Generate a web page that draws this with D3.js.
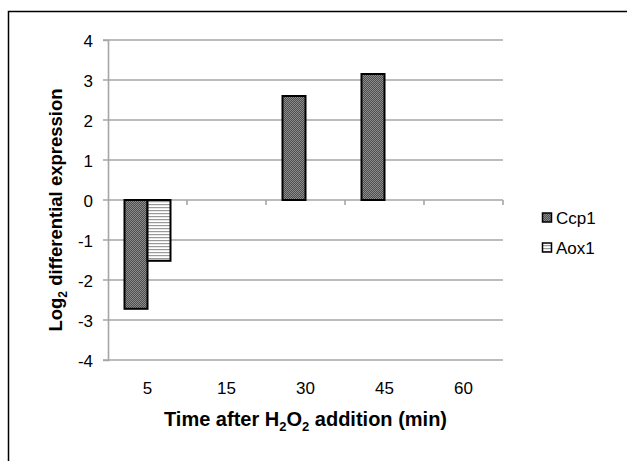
<!DOCTYPE html>
<html>
<head>
<meta charset="utf-8">
<script src="https://cdn.jsdelivr.net/npm/d3@7"></script>
<style>
  body { margin: 0; background: #fff; }
  text { font-family: "Liberation Sans", Arial, sans-serif; fill: #000; }
</style>
</head>
<body>
<div id="chart"></div>
<script>
// data
const times = ["5", "15", "30", "45", "60"];
const seriesNames = ["Ccp1", "Aox1"];
const ccp1 = [-2.72, null, 2.6, 3.15, null];
const aox1 = [-1.52, null, null, null, null];
const yTicks = [-4, -3, -2, -1, 0, 1, 2, 3, 4];

const W = 627, H = 461;
const margin = { top: 40, left: 108, right: 124, bottom: 101 };

const svg = d3.select("#chart").append("svg")
  .attr("width", W)
  .attr("height", H);

// patterns for the bars
const defs = svg.append("defs");
const checker = defs.append("pattern")
  .attr("id", "checker")
  .attr("patternUnits", "userSpaceOnUse")
  .attr("width", 2).attr("height", 2);
checker.append("rect").attr("width", 2).attr("height", 2).attr("fill", "#4d4d4d");
checker.append("rect").attr("width", 1).attr("height", 1).attr("fill", "#8c8c8c");
checker.append("rect").attr("x", 1).attr("y", 1).attr("width", 1).attr("height", 1).attr("fill", "#8c8c8c");

const stripes = defs.append("pattern")
  .attr("id", "stripes")
  .attr("patternUnits", "userSpaceOnUse")
  .attr("width", 4).attr("height", 3);
stripes.append("rect").attr("width", 4).attr("height", 3).attr("fill", "#fff");
stripes.append("rect").attr("width", 4).attr("height", 1.2).attr("fill", "#999");

const fills = { Ccp1: "url(#checker)", Aox1: "url(#stripes)" };

// outer frame (top and left edges visible)
svg.append("path")
  .attr("d", "M8.5," + H + "V11.5H" + W)
  .attr("fill", "none")
  .attr("stroke", "#000")
  .attr("stroke-width", 1.5);

const x = d3.scaleBand()
  .domain(times)
  .range([margin.left, W - margin.right]);

const x1 = d3.scaleBand()
  .domain(seriesNames)
  .range([16.5, 62.5]);

const y = d3.scaleLinear()
  .domain([-4, 4])
  .range([H - margin.bottom, margin.top]);

// gridlines
svg.append("g")
  .selectAll("line")
  .data(yTicks)
  .join("line")
    .attr("x1", margin.left - 5)
    .attr("x2", W - margin.right)
    .attr("y1", d => y(d))
    .attr("y2", d => y(d))
    .attr("stroke", "#a6a6a6")
    .attr("stroke-width", 1.6);

// y axis
const yAxis = svg.append("g")
  .attr("transform", "translate(" + margin.left + ",0)")
  .call(d3.axisLeft(y).tickValues(yTicks).tickSize(5).tickPadding(10).tickFormat(d => String(d)));
yAxis.select(".domain").attr("stroke", "#a6a6a6").attr("stroke-width", 1.6);
yAxis.selectAll(".tick line").remove();
yAxis.selectAll("text")
  .attr("dy", "0.36em")
  .style("font-size", "17px")
  .style("font-family", "Liberation Sans, Arial, sans-serif");

// x axis at zero line, ticks between categories
const boundaries = times.map(t => x(t)).concat([x(times[times.length - 1]) + x.bandwidth()]);
svg.append("g")
  .selectAll("line")
  .data(boundaries.slice(1))
  .join("line")
    .attr("x1", d => d).attr("x2", d => d)
    .attr("y1", y(0)).attr("y2", y(0) + 5)
    .attr("stroke", "#a6a6a6")
    .attr("stroke-width", 1.6);

svg.append("g")
  .selectAll("text")
  .data(times)
  .join("text")
    .attr("x", d => x(d) + x.bandwidth() / 2)
    .attr("y", H - margin.bottom + 34)
    .attr("text-anchor", "middle")
    .style("font-size", "17px")
    .text(d => d);

// bars
const rows = [];
times.forEach((t, i) => {
  [ccp1, aox1].forEach((arr, j) => {
    if (arr[i] != null) rows.push({ time: t, series: seriesNames[j], value: arr[i] });
  });
});

svg.append("g")
  .selectAll("rect")
  .data(rows)
  .join("rect")
    .attr("x", d => x(d.time) + x1(d.series))
    .attr("width", x1.bandwidth())
    .attr("y", d => y(Math.max(0, d.value)))
    .attr("height", d => Math.abs(y(d.value) - y(0)))
    .attr("fill", d => fills[d.series])
    .attr("stroke", "#000")
    .attr("stroke-width", 2);

// axis titles
const xTitle = svg.append("text")
  .attr("x", x(times[0]) + (W - margin.right - margin.left) / 2)
  .attr("y", 426)
  .attr("text-anchor", "middle")
  .style("font-size", "20px")
  .style("font-weight", "bold");
xTitle.append("tspan").text("Time after H");
xTitle.append("tspan").attr("dy", 5).style("font-size", "13px").text("2");
xTitle.append("tspan").attr("dy", -5).text("O");
xTitle.append("tspan").attr("dy", 5).style("font-size", "13px").text("2");
xTitle.append("tspan").attr("dy", -5).text(" addition (min)");

const yTitle = svg.append("text")
  .attr("transform", "translate(62,210) rotate(-90)")
  .attr("text-anchor", "middle")
  .style("font-size", "18.5px")
  .style("font-weight", "bold");
yTitle.append("tspan").text("Log");
yTitle.append("tspan").attr("dy", 5).style("font-size", "12px").text("2");
yTitle.append("tspan").attr("dy", -5).text(" differential expression");

// legend
const legend = svg.append("g")
  .selectAll("g")
  .data(seriesNames)
  .join("g")
    .attr("transform", (d, i) => "translate(542," + (218 + i * 30) + ")");
legend.append("rect")
  .attr("x", 0.5).attr("y", -5)
  .attr("width", 9).attr("height", 9)
  .attr("fill", d => fills[d])
  .attr("stroke", "#000")
  .attr("stroke-width", 1.5);
legend.append("text")
  .attr("x", 14)
  .attr("y", 6)
  .style("font-size", "17px")
  .text(d => d);
</script>
</body>
</html>
